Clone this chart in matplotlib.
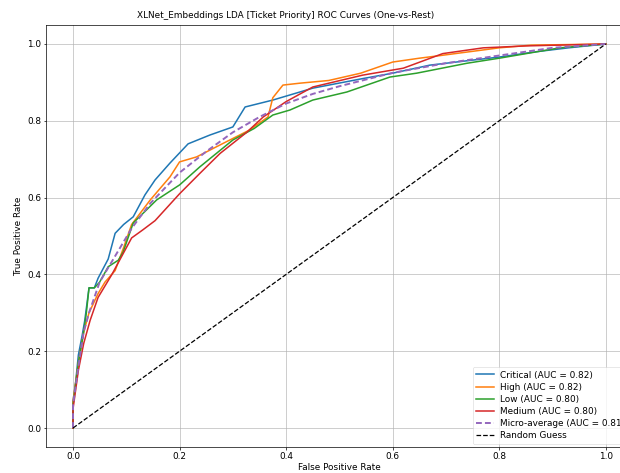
import matplotlib
matplotlib.use("Agg")
import matplotlib.pyplot as plt

title = "XLNet_Embeddings LDA [Ticket Priority] ROC Curves (One-vs-Rest)"
class_names = ["Critical", "High", "Low", "Medium"]
class_auc = [0.82, 0.82, 0.80, 0.80]
micro_auc = 0.81

critical_fpr = [0, 0, 0.005, 0.01, 0.017, 0.022, 0.03, 0.04, 0.047, 0.066, 0.079, 0.095, 0.113, 0.135, 0.154, 0.182, 0.216, 0.257, 0.30, 0.323, 0.375, 0.45, 0.544, 0.60, 0.67, 0.75, 0.80, 0.87, 0.93, 1.0]
critical_tpr = [0, 0.07, 0.12, 0.19, 0.24, 0.28, 0.365, 0.365, 0.39, 0.44, 0.507, 0.53, 0.55, 0.607, 0.646, 0.69, 0.74, 0.763, 0.784, 0.836, 0.854, 0.885, 0.91, 0.924, 0.945, 0.958, 0.966, 0.98, 0.99, 1.0]

high_fpr = [0, 0, 0.01, 0.02, 0.03, 0.047, 0.06, 0.079, 0.095, 0.11, 0.145, 0.182, 0.2, 0.232, 0.28, 0.33, 0.366, 0.375, 0.394, 0.426, 0.48, 0.54, 0.60, 0.65, 0.69, 0.80, 0.86, 1.0]
high_tpr = [0, 0.07, 0.17, 0.25, 0.30, 0.35, 0.38, 0.41, 0.47, 0.53, 0.594, 0.654, 0.693, 0.706, 0.74, 0.775, 0.81, 0.86, 0.893, 0.898, 0.905, 0.924, 0.953, 0.963, 0.97, 0.99, 0.997, 1.0]

low_fpr = [0, 0, 0.01, 0.02, 0.025, 0.03, 0.04, 0.05, 0.066, 0.085, 0.094, 0.113, 0.157, 0.2, 0.238, 0.30, 0.34, 0.375, 0.407, 0.45, 0.514, 0.595, 0.645, 0.74, 0.80, 0.914, 1.0]
low_tpr = [0, 0.06, 0.17, 0.25, 0.30, 0.365, 0.365, 0.38, 0.42, 0.437, 0.458, 0.534, 0.594, 0.633, 0.68, 0.75, 0.78, 0.815, 0.828, 0.854, 0.875, 0.914, 0.924, 0.95, 0.963, 0.99, 1.0]

medium_fpr = [0, 0, 0.01, 0.02, 0.032, 0.047, 0.073, 0.11, 0.131, 0.154, 0.2, 0.238, 0.276, 0.326, 0.357, 0.40, 0.45, 0.544, 0.62, 0.694, 0.77, 0.85, 1.0]
medium_tpr = [0, 0.05, 0.15, 0.22, 0.28, 0.34, 0.40, 0.495, 0.516, 0.54, 0.61, 0.663, 0.715, 0.77, 0.81, 0.85, 0.888, 0.919, 0.937, 0.975, 0.99, 0.995, 1.0]

micro_fpr = [0, 0, 0.01, 0.02, 0.03, 0.05, 0.08, 0.11, 0.145, 0.2, 0.25, 0.30, 0.35, 0.40, 0.45, 0.50, 0.60, 0.70, 0.80, 0.90, 1.0]
micro_tpr = [0, 0.06, 0.16, 0.25, 0.30, 0.38, 0.45, 0.52, 0.585, 0.665, 0.72, 0.77, 0.81, 0.845, 0.87, 0.89, 0.925, 0.95, 0.97, 0.99, 1.0]

curves_fpr = [critical_fpr, high_fpr, low_fpr, medium_fpr]
curves_tpr = [critical_tpr, high_tpr, low_tpr, medium_tpr]
colors = ["#1f77b4", "#ff7f0e", "#2ca02c", "#d62728"]

W, H = 620, 473
fig = plt.figure(figsize=(W / 100, H / 100), dpi=100)
ax = fig.add_axes([46.4 / W, 25.8 / H, 586 / W, 422.4 / H])

fs = 6.4
for name, auc, fpr, tpr, c in zip(class_names, class_auc, curves_fpr, curves_tpr, colors):
    ax.plot(fpr, tpr, color=c, lw=1.1, label=f"{name} (AUC = {auc:.2f})")
ax.plot(micro_fpr, micro_tpr, color="#9467bd", lw=1.4, ls=(0, (3.0, 1.6)),
        label=f"Micro-average (AUC = {micro_auc:.2f})")
ax.plot([0, 1], [0, 1], color="black", lw=0.9, ls="--", label="Random Guess")

ax.set_xlim(-0.05, 1.05)
ax.set_ylim(-0.05, 1.05)
ax.grid(True, color="#b0b0b0", lw=0.55, alpha=0.8)
ax.set_xlabel("False Positive Rate", fontsize=fs, labelpad=1.5)
ax.set_ylabel("True Positive Rate", fontsize=fs, labelpad=3)
fig.text(286 / W, 1 - 15 / H, title, fontsize=6.4, ha="center", va="center")
ax.tick_params(labelsize=fs, width=0.5, length=1.8, pad=1.8)
for s in ax.spines.values():
    s.set_linewidth(0.5)
leg = ax.legend(loc="lower right", fontsize=fs, handlelength=2.0, borderpad=0.4,
                labelspacing=0.35, borderaxespad=0.4, handletextpad=0.7, framealpha=0.8)
leg.get_frame().set_linewidth(0.4)

fig.savefig("out.png", dpi=100)
